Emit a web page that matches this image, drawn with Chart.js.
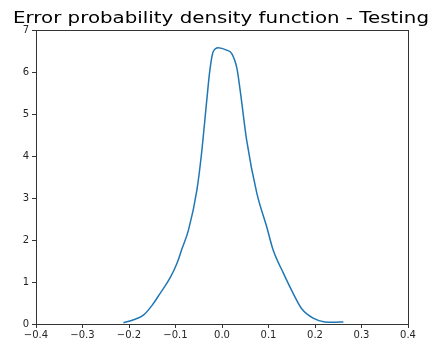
<!DOCTYPE html>
<html>
<head>
<meta charset="utf-8">
<script src="https://cdn.jsdelivr.net/npm/chart.js@4/dist/chart.umd.min.js"></script>
<style>
  html, body { margin: 0; padding: 0; background: #fff; }
  #wrap { width: 430px; height: 339px; position: relative; }
</style>
</head>
<body>
<div id="wrap"><canvas id="chart" width="430" height="339"></canvas></div>
<script>
// Error values (x) and estimated density (y)
const errorX = [-0.212, -0.190, -0.169, -0.150, -0.133, -0.112, -0.097, -0.087, -0.072, -0.054,
                -0.044, -0.033, -0.026, -0.019, -0.008, 0.010, 0.021, 0.032, 0.039, 0.053,
                0.075, 0.096, 0.110, 0.132, 0.153, 0.171, 0.196, 0.221, 0.240, 0.261];
const density = [0.03, 0.10, 0.21, 0.45, 0.73, 1.09, 1.44, 1.76, 2.24, 3.19,
                 4.06, 5.30, 6.05, 6.48, 6.58, 6.52, 6.44, 6.09, 5.57, 4.38,
                 3.11, 2.32, 1.76, 1.21, 0.73, 0.37, 0.14, 0.05, 0.04, 0.05];
const xTicks = [-0.4, -0.3, -0.2, -0.1, 0.0, 0.1, 0.2, 0.3, 0.4];
const yTicks = [0, 1, 2, 3, 4, 5, 6, 7];
const TITLE = 'Error probability density function - Testing';

const FONT = "'DejaVu Sans', sans-serif";
const TEXT = '#262626';
const AXIS = '#333333';

// matplotlib-style box around the axes
const frame = {
  id: 'frame',
  afterDraw(chart) {
    const { ctx, chartArea: a } = chart;
    ctx.save();
    ctx.strokeStyle = AXIS;
    ctx.lineWidth = 1;
    ctx.strokeRect(Math.round(a.left) + 0.5, Math.round(a.top) + 0.5,
                   Math.round(a.right - a.left), Math.round(a.bottom - a.top));
    ctx.restore();
  }
};

// title centred over the axes; the reference title is drawn wide, so stretch it
const axTitle = {
  id: 'axTitle',
  afterDraw(chart) {
    const { ctx, chartArea: a } = chart;
    ctx.save();
    ctx.fillStyle = '#000';
    ctx.font = '15.5px ' + FONT;
    const w = ctx.measureText(TITLE).width;
    const sx = 416 / w;
    ctx.translate((a.left + a.right) / 2 - 1, a.top - 7);
    ctx.scale(sx, 1);
    ctx.textAlign = 'center';
    ctx.textBaseline = 'alphabetic';
    ctx.fillText(TITLE, 0, 0);
    ctx.restore();
  }
};

const fmt = v => {
  const s = Math.abs(v).toFixed(1);
  return v < -1e-9 ? '\u2212' + s : s;
};

new Chart(document.getElementById('chart'), {
  type: 'scatter',
  data: {
    datasets: [{
      data: errorX.map((x, i) => ({ x, y: density[i] })),
      showLine: true,
      borderColor: '#1f77b4',
      borderWidth: 1.5,
      pointRadius: 0,
      cubicInterpolationMode: 'monotone',
      fill: false
    }]
  },
  plugins: [frame, axTitle],
  options: {
    responsive: false,
    animation: false,
    devicePixelRatio: 1,
    layout: { padding: { left: 0, right: 22, top: 30, bottom: 0 } },
    plugins: { legend: { display: false }, tooltip: { enabled: false }, title: { display: false } },
    scales: {
      x: {
        type: 'linear',
        min: -0.4, max: 0.4,
        afterBuildTicks: s => { s.ticks = xTicks.map(v => ({ value: v })); },
        afterFit: s => { s.height = 15; },
        grid: { drawOnChartArea: false, drawTicks: true, tickLength: 4, color: AXIS },
        border: { display: false },
        ticks: { color: TEXT, font: { family: FONT, size: 10 }, padding: 1, maxRotation: 0, callback: v => fmt(v) }
      },
      y: {
        min: 0, max: 7,
        afterBuildTicks: s => { s.ticks = yTicks.map(v => ({ value: v })); },
        afterFit: s => { s.width = 36; },
        grid: { drawOnChartArea: false, drawTicks: true, tickLength: 4, color: AXIS },
        border: { display: false },
        ticks: { color: TEXT, font: { family: FONT, size: 10 }, padding: 3, callback: v => String(v) }
      }
    }
  }
});
</script>
</body>
</html>
